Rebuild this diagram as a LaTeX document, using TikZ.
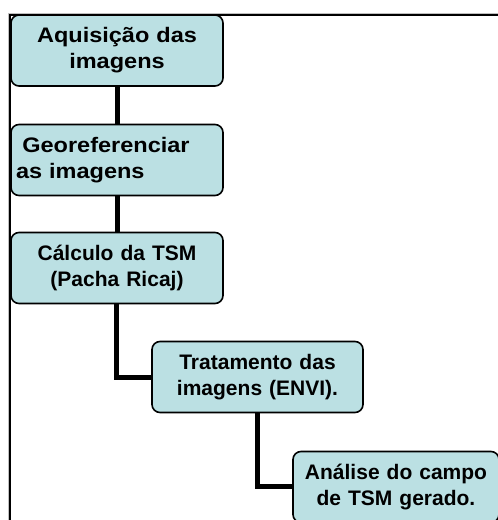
\documentclass[tikz,border=0pt]{standalone}
\usepackage{fontspec}
\setmainfont{Liberation Sans}
\newfontfamily\widefont[FakeStretch=1.12]{Liberation Sans}
\definecolor{boxfill}{RGB}{187,224,227}
\begin{document}
\begin{tikzpicture}[x=1pt,y=-1pt,
  stepbox/.style={draw=black, line width=1.6pt, fill=boxfill, rounded corners=8pt,
    minimum width=212pt, minimum height=71pt, inner sep=0pt, text width=202pt,
    align=center, font=\fontsize{21}{26}\selectfont\bfseries},
  widebox/.style={stepbox, font=\widefont\fontsize{21}{26}\selectfont\bfseries},
  link/.style={line width=5pt, black}]
\useasboundingbox (0,0) rectangle (498,520);
\clip (0,0) rectangle (498,520);
% frame
\draw[gray!50, line width=1pt] (8.5,527) -- (8.5,13) -- (505,13);
\draw[black, line width=1.6pt] (10.2,527) -- (10.2,14.7) -- (505,14.7);
% boxes
\node[widebox] (b1) at (117,50.5) {Aquisição das\\imagens};
\node[widebox, align=left] (b2) at (117,160) {\hspace*{0.3em}Georeferenciar\\as imagens};
\node[stepbox] (b3) at (117,268) {Cálculo da TSM\\(Pacha Ricaj)};
\node[stepbox, minimum width=211pt] (b4) at (257.5,377) {Tratamento das\\imagens (ENVI).};
\node[stepbox, minimum width=206pt, text width=200pt] (b5) at (396,487) {Análise do campo\\de TSM gerado.};
% connectors
\draw[link] (b1.south) -- (b2.north);
\draw[link] (b2.south) -- (b3.north);
\draw[link] ([xshift=-1pt]b3.south) |- (b4.west);
\draw[link] ([xshift=-0.5pt]b4.south) |- ([yshift=1pt]b5.west);
\end{tikzpicture}
\end{document}
